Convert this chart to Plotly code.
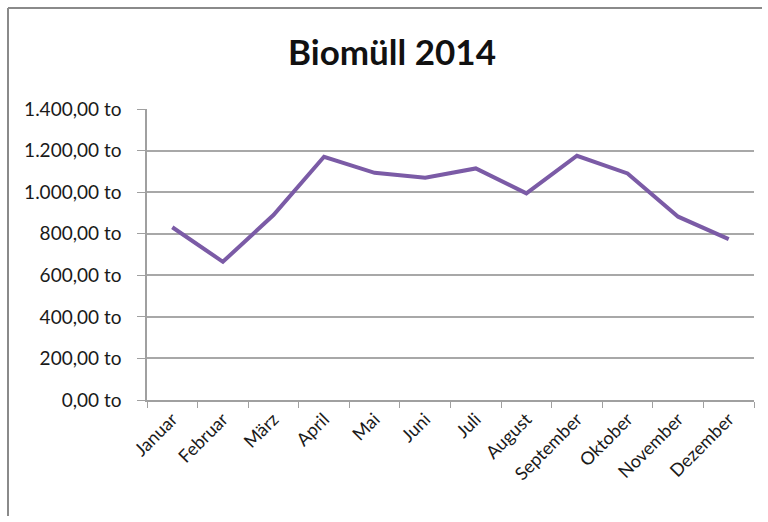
import plotly.graph_objects as go

months = ["Januar", "Februar", "März", "April", "Mai", "Juni", "Juli",
          "August", "September", "Oktober", "November", "Dezember"]
tonnes = [831, 665, 890, 1170, 1093, 1069, 1114, 994, 1175, 1090, 882, 774]

y_tickvals = [0, 200, 400, 600, 800, 1000, 1200, 1400]
y_ticktext = ["0,00 to", "200,00 to", "400,00 to", "600,00 to", "800,00 to",
              "1.000,00 to", "1.200,00 to", "1.400,00 to"]

fig = go.Figure()
fig.add_trace(go.Scatter(
    x=months, y=tonnes, mode="lines",
    line=dict(color="#7B5BA6", width=4),
    hovertemplate="%{x}: %{y:,.2f} to<extra></extra>",
))

font_family = "Lato, 'Open Sans', sans-serif"
fig.update_layout(
    width=768, height=522,
    margin=dict(l=147, r=14, t=109, b=122),
    paper_bgcolor="white", plot_bgcolor="white",
    showlegend=False,
    title=dict(text="<b>Biomüll 2014</b>", x=392 / 768, xanchor="center",
               y=1 - 53 / 522, yanchor="middle",
               font=dict(family=font_family, size=35, color="#111111")),
    font=dict(family=font_family, size=19, color="#222222"),
)
fig.update_xaxes(
    type="category", tickangle=-45, tickson="boundaries",
    ticks="outside", ticklen=6, tickcolor="#a0a0a0",
    showline=True, linecolor="#a0a0a0", linewidth=1.5,
    showgrid=False, range=[-0.5, 11.5],
    tickfont=dict(family=font_family, size=18, color="#1a1a1a"),
)
fig.update_yaxes(
    range=[0, 1400], tickvals=y_tickvals, ticktext=y_ticktext,
    ticks="outside", ticklen=8, tickcolor="#a0a0a0",
    ticklabelstandoff=12,
    showline=True, linecolor="#a0a0a0", linewidth=1.5,
    showgrid=True, gridcolor="#a8a8a8", gridwidth=1.5,
    zeroline=False,
    tickfont=dict(family=font_family, size=19, color="#1a1a1a"),
)
# chart-area border: only the left and top edges are visible in the reference
# (kept inside the page so that no scrollbar appears)
bx = (8 - 147) / 607
by = (400 - 8) / 291
fig.add_shape(type="line", xref="paper", yref="paper",
              x0=bx, x1=bx, y0=(400 - 516) / 291, y1=by,
              line=dict(color="#8a8a8a", width=2), layer="below")
fig.add_shape(type="line", xref="paper", yref="paper",
              x0=bx, x1=(762 - 147) / 607, y0=by, y1=by,
              line=dict(color="#8a8a8a", width=2), layer="below")

fig.write_html("out.html")
